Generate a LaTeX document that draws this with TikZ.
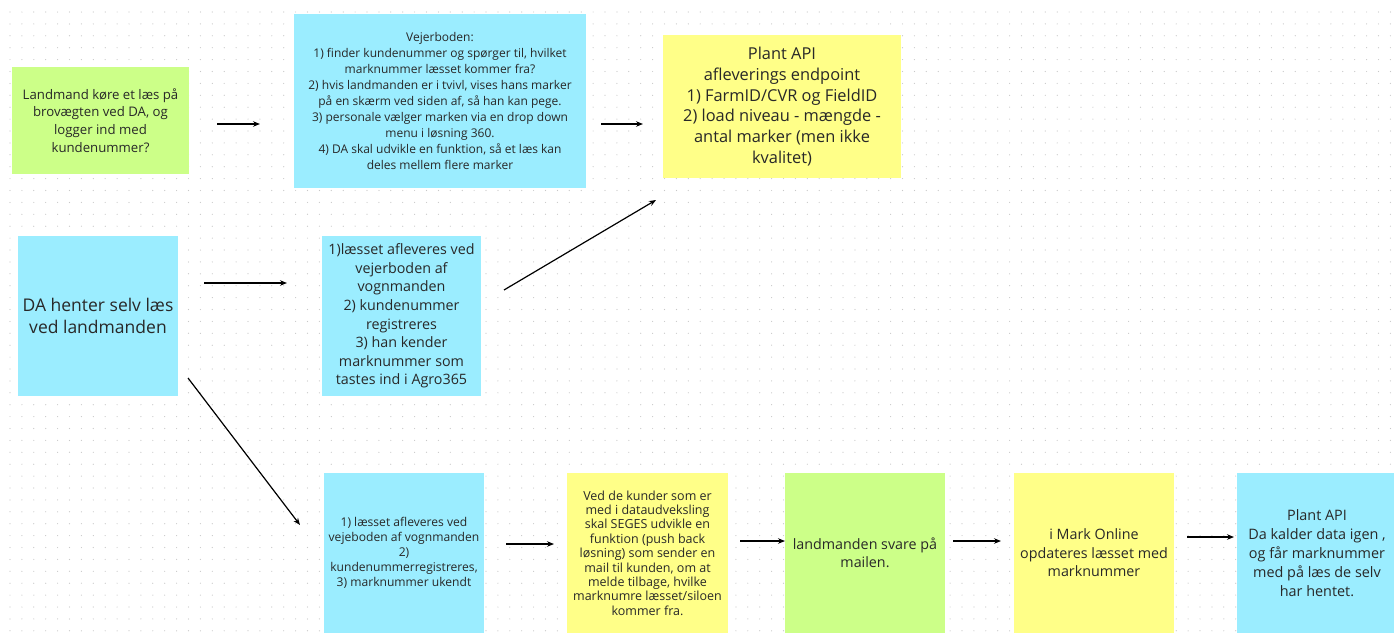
\documentclass[tikz,border=0pt]{standalone}
\usepackage{fontspec}
\setmainfont{Open Sans}
\usetikzlibrary{arrows.meta}
\definecolor{stblue}{RGB}{155,237,255}
\definecolor{stgreen}{RGB}{204,255,136}
\definecolor{styellow}{RGB}{255,255,136}
\definecolor{txt}{RGB}{40,40,40}
\definecolor{dotc}{RGB}{200,200,200}
\begin{document}
\begin{tikzpicture}[x=1pt,y=-1pt,
  card/.style={rectangle, inner sep=0pt, outer sep=0pt, align=center, text=txt},
  arr/.style={-{Stealth[length=7pt,width=5.5pt]}, line width=1.2pt, black}]
\useasboundingbox (0,0) rectangle (1394,632);
\fill[white] (0,0) rectangle (1394,632);
\foreach \i in {0,...,117}{\foreach \j in {0,...,52}{\fill[dotc] ({10+\i*11.9},{12+\j*11.9}) circle (0.6);}}

\node[card, fill=stgreen, minimum width=177, minimum height=107, font=\fontsize{13.2}{17.7}\selectfont] (n1) at (100.5,120.5)
  {Landmand køre et læs på\\brovægten ved DA, og\\logger ind med\\kundenummer?};
\node[card, fill=stblue, minimum width=292, minimum height=174, font=\fontsize{12}{16}\selectfont] (n2) at (440,101)
  {Vejerboden:\\1) finder kundenummer og spørger til, hvilket\\marknummer læsset kommer fra?\\2) hvis landmanden er i tvivl, vises hans marker\\på en skærm ved siden af, så han kan pege.\\3) personale vælger marken via en drop down\\menu i løsning 360.\\4) DA skal udvikle en funktion, så et læs kan\\deles mellem flere marker};
\node[card, fill=styellow, minimum width=238, minimum height=143, font=\fontsize{16.4}{20.8}\selectfont] (n3) at (782,106.5)
  {Plant API\\afleverings endpoint\\1) FarmID/CVR og FieldID\\2) load niveau - mængde -\\antal marker (men ikke\\kvalitet)};
\node[card, fill=stblue, minimum width=160, minimum height=160, font=\fontsize{17.5}{22}\selectfont] (n4) at (98,316)
  {DA henter selv læs\\ved landmanden};
\node[card, fill=stblue, minimum width=159, minimum height=160, font=\fontsize{14.3}{18.6}\selectfont] (n5) at (401.5,316)
  {1)læsset afleveres ved\\vejerboden af\\vognmanden\\2) kundenummer\\registreres\\3) han kender\\marknummer som\\tastes ind i Agro365};
\node[card, fill=stblue, minimum width=160, minimum height=160, font=\fontsize{12.1}{15}\selectfont] (n6) at (404,553)
  {1) læsset afleveres ved\\vejeboden af vognmanden\\2)\\kundenummerregistreres,\\3) marknummer ukendt};
\node[card, fill=styellow, minimum width=161, minimum height=160, font=\fontsize{12.5}{14.4}\selectfont] (n7) at (647.5,553)
  {Ved de kunder som er\\med i dataudveksling\\skal SEGES udvikle en\\funktion (push back\\løsning) som sender en\\mail til kunden, om at\\melde tilbage, hvilke\\marknumre læsset/siloen\\kommer fra.};
\node[card, fill=stgreen, minimum width=160, minimum height=160, font=\fontsize{14.3}{18}\selectfont] (n8) at (865,553)
  {landmanden svare på\\mailen.};
\node[card, fill=styellow, minimum width=160, minimum height=160, font=\fontsize{14.3}{18.5}\selectfont] (n9) at (1094,553)
  {i Mark Online\\opdateres læsset med\\marknummer};
\node[card, fill=stblue, minimum width=160, minimum height=160, font=\fontsize{14.4}{19}\selectfont] (n10) at (1317,553)
  {Plant API\\Da kalder data igen ,\\og får marknummer\\med på læs de selv\\har hentet.};

\coordinate (a1s) at (217,124);  \coordinate (a1e) at (260,124);
\coordinate (a2s) at (601,124);  \coordinate (a2e) at (643,124);
\coordinate (a3s) at (204,283);  \coordinate (a3e) at (287,283);
\coordinate (a4s) at (504,290);  \coordinate (a4e) at (656,200);
\coordinate (a5s) at (188,378);  \coordinate (a5e) at (300,525);
\coordinate (a6s) at (506,544);  \coordinate (a6e) at (554,544);
\coordinate (a7s) at (740,541);  \coordinate (a7e) at (785,541);
\coordinate (a8s) at (953,541);  \coordinate (a8e) at (1001,541);
\coordinate (a9s) at (1187,537); \coordinate (a9e) at (1234,537);
\draw[arr] (a1s) -- (a1e);
\draw[arr] (a2s) -- (a2e);
\draw[arr] (a3s) -- (a3e);
\draw[arr] (a4s) -- (a4e);
\draw[arr] (a5s) -- (a5e);
\draw[arr] (a6s) -- (a6e);
\draw[arr] (a7s) -- (a7e);
\draw[arr] (a8s) -- (a8e);
\draw[arr] (a9s) -- (a9e);
\end{tikzpicture}
\end{document}
